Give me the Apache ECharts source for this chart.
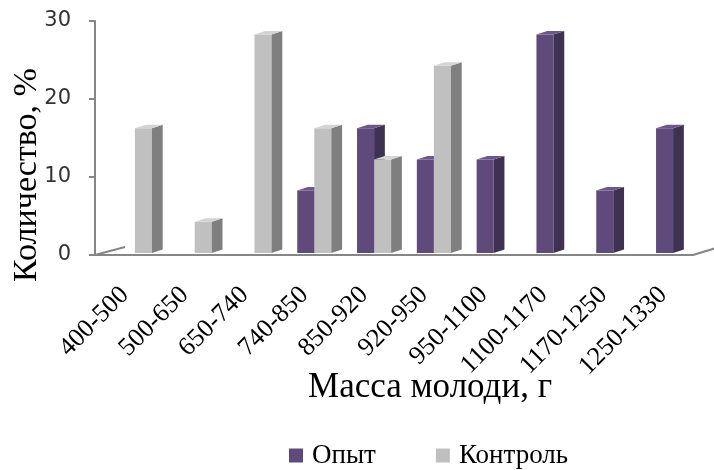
<!DOCTYPE html>
<html>
<head>
<meta charset="utf-8">
<script src="https://cdn.jsdelivr.net/npm/echarts@6/dist/echarts.min.js"></script>
<style>
  html, body { margin: 0; padding: 0; background: #fff; }
  #chart { width: 714px; height: 470px; }
</style>
</head>
<body>
<div id="chart"></div>
<script>
// масса молоди, г
var categories = ["400-500", "500-650", "650-740", "740-850", "850-920",
  "920-950", "950-1100", "1100-1170", "1170-1250", "1250-1330"];
var opyt = [0, 0, 0, 8, 16, 12, 12, 28, 8, 16];
var kontrol = [16, 4, 28, 16, 12, 24, 0, 0, 0, 0];
var yTicks = [0, 10, 20, 30];

var BAR_W = 0.285;   // front face, share of band
var DEPTH = 0.18;    // side face, share of band

// fake 3d column like in excel
function bar3d(offset, front, side, top) {
  return function (params, api) {
    var v = api.value(1);
    if (!v) return;
    var base = api.coord([api.value(0), 0]);
    var tip = api.coord([api.value(0), v]);
    var bw = api.size([1, 0])[0];
    var x0 = base[0] + offset * bw;
    var w = BAR_W * bw;
    var dx = DEPTH * bw, dy = 3.5;
    var yb = base[1] - 2;
    var yt = tip[1] - 2;
    return {
      type: "group",
      children: [
        { type: "rect", shape: { x: x0, y: yt, width: w, height: yb - yt }, style: { fill: front } },
        { type: "polygon", shape: { points: [[x0 + w, yt], [x0 + w + dx, yt - dy], [x0 + w + dx, yb - dy], [x0 + w, yb]] }, style: { fill: side } },
        { type: "polygon", shape: { points: [[x0, yt], [x0 + dx, yt - dy], [x0 + w + dx, yt - dy], [x0 + w, yt]] }, style: { fill: top } }
      ]
    };
  };
}

var chart = echarts.init(document.getElementById("chart"));
chart.setOption({
  animation: false,
  grid: { left: 95, right: 21, top: 21, bottom: 215 },
  legend: {
    left: 284,
    top: 437,
    icon: "rect",
    itemWidth: 14,
    itemHeight: 14,
    itemGap: 60,
    textStyle: { fontFamily: "Liberation Serif", fontSize: 27, color: "#000", padding: [0, 0, 0, 4] },
    data: ["Опыт", "Контроль"]
  },
  graphic: [
    {
      type: "text", x: 27, y: 175, rotation: Math.PI / 2,
      style: { text: "Количество, %", font: "34px 'Liberation Serif'", fill: "#000", align: "center", verticalAlign: "middle" }
    },
    {
      type: "text", x: 430, y: 388,
      style: { text: "Масса молоди, г", font: "35px 'Liberation Serif'", fill: "#000", align: "center", verticalAlign: "middle" }
    },
    { type: "line", shape: { x1: 95, y1: 255, x2: 125, y2: 247 }, style: { stroke: "#868686", lineWidth: 2 } },
    { type: "line", shape: { x1: 693, y1: 255, x2: 716, y2: 248 }, style: { stroke: "#868686", lineWidth: 2 } }
  ],
  xAxis: {
    type: "category",
    data: categories,
    axisLine: { lineStyle: { color: "#868686", width: 2 } },
    axisTick: { length: 6, lineStyle: { color: "#868686", width: 2 } },
    axisLabel: {
      interval: 0,
      rotate: 45,
      margin: 36,
      fontFamily: "Liberation Serif",
      fontSize: 26,
      color: "#000"
    }
  },
  yAxis: {
    type: "value",
    min: yTicks[0],
    max: yTicks[yTicks.length - 1],
    interval: 10,
    splitLine: { show: false },
    axisLine: { show: true, lineStyle: { color: "#868686", width: 2 } },
    axisTick: { show: true, length: 6, lineStyle: { color: "#868686", width: 2 } },
    axisLabel: { margin: 24, fontFamily: "DejaVu Sans", fontSize: 21, color: "#333" }
  },
  series: [
    {
      name: "Опыт",
      type: "custom",
      itemStyle: { color: "#5F4A7B" },
      renderItem: bar3d(-0.118, "#5F4A7B", "#3F3151", "#6B5788"),
      data: opyt.map(function (v, i) { return [i, v]; })
    },
    {
      name: "Контроль",
      type: "custom",
      itemStyle: { color: "#C0C0C0" },
      renderItem: bar3d(0.167, "#C0C0C0", "#7F7F7F", "#D4D4D4"),
      data: kontrol.map(function (v, i) { return [i, v]; })
    }
  ]
});
</script>
</body>
</html>
